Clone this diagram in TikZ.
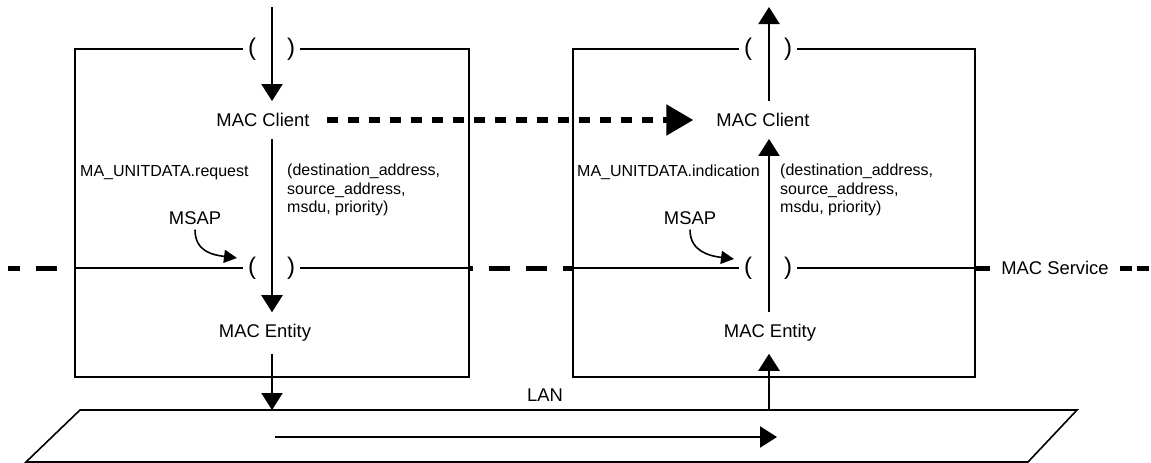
\documentclass[tikz,border=0pt]{standalone}
\usepackage{fontspec}
\setmainfont{Liberation Sans}
\usetikzlibrary{arrows.meta}

\begin{document}
\begin{tikzpicture}[x=1pt,y=-1pt,
    lbl/.style={font=\fontsize{18.4}{22}\selectfont,inner sep=12pt},
    prim/.style={font=\fontsize{16}{18.5}\selectfont,inner sep=0pt,align=left},
    paren/.style={font=\fontsize{24}{26}\selectfont,inner sep=5pt},
    frame/.style={line width=2pt},
    flow/.style={line width=2.2pt,-{Triangle[length=17pt,width=21pt]}},
    peer/.style={line width=5.5pt,dash pattern=on 11pt off 10pt,-{Triangle[length=27pt,width=30pt]}},
    service/.style={line width=5pt,dash pattern=on 21pt off 16pt},
    sap/.style={line width=1.6pt,-{Triangle[length=13pt,width=13pt]}},
    lan/.style={line width=1.6pt}]

  \useasboundingbox[fill=white] (0,0) rectangle (1151,463);

  % station corners and the LAN
  \coordinate (lnw) at (75,49);
  \coordinate (lse) at (469,377);
  \coordinate (rnw) at (573,49);
  \coordinate (rse) at (975,377);
  \coordinate (lantl) at (80,410);
  \coordinate (lantr) at (1077,410);
  \coordinate (lanbr) at (1028,462);
  \coordinate (lanbl) at (26,462);

  % left station
  \node[lbl] (lclient) at (263,120) {MAC Client};
  \node[lbl] (lentity) at (265,333) {MAC Entity};
  \node[paren] (ltopL) at (252,49) {(};
  \node[paren] (ltopR) at (291,49) {)};
  \node[paren] (lmidL) at (252,268) {(};
  \node[paren] (lmidR) at (291,268) {)};
  \node[prim,anchor=base west] (lreq) at (80,176) {MA\_UNITDATA.request};
  \node[prim,anchor=north west] (lparm) at (287,164) {(destination\_address,\\source\_address,\\msdu, priority)};
  \node[lbl,inner sep=5pt] (lmsap) at (195,218) {MSAP};
  \coordinate (lsap) at (237,258);
  \coordinate (lin) at (272,7);

  % right station
  \node[lbl] (rclient) at (763,120) {MAC Client};
  \node[lbl] (rentity) at (770,333) {MAC Entity};
  \node[paren] (rtopL) at (748,49) {(};
  \node[paren] (rtopR) at (788,49) {)};
  \node[paren] (rmidL) at (748,268) {(};
  \node[paren] (rmidR) at (788,268) {)};
  \node[prim,anchor=base west] (rind) at (577,176) {MA\_UNITDATA.indication};
  \node[prim,anchor=north west] (rparm) at (780,164) {(destination\_address,\\source\_address,\\msdu, priority)};
  \node[lbl,inner sep=5pt] (rmsap) at (690,218) {MSAP};
  \coordinate (rsap) at (734,259);
  \coordinate (rup) at (769,7);

  % frames
  \draw[frame] (ltopL.west) -| (lnw |- lse) -| (lse |- lnw) -- (ltopR.east);
  \draw[frame] (lnw |- lmidL) -- (lmidL.west) (lmidR.east) -- (lse |- lmidR);
  \draw[frame] (rtopL.west) -| (rnw |- rse) -| (rse |- rnw) -- (rtopR.east);
  \draw[frame] (rnw |- rmidL) -- (rmidL.west) (rmidR.east) -- (rse |- rmidR);

  % MAC service boundary
  \node[lbl,inner sep=11pt] (svc) at (1055,268) {MAC Service};
  \draw[service,dash phase=9pt] (8,268) -- (60,268);
  \draw[service,dash phase=17pt] (lse |- lmidR) -- (rnw |- rmidL);
  \draw[service] (rse |- rmidR) -- (svc.west);
  \draw[service,dash pattern=on 12pt off 5pt] (svc.east) -- (1151,268);

  % LAN
  \draw[lan] (lantl) -- (lantr) -- (lanbr) -- (lanbl) -- cycle;
  \node[lbl] (lanlbl) at (545,395) {LAN};
  \coordinate (bus0) at (275,437);
  \coordinate (bus1) at (777,437);
  \draw[flow] (bus0) -- (bus1);

  % primitives
  \path[flow]
    (lin) edge (lin |- lclient.north)
    (lin |- lclient.south) edge (lin |- lentity.north)
    (lin |- lentity.south) edge (lin |- lantl)
    (rup |- rclient.north) edge (rup)
    (rup |- rentity.north) edge (rup |- rclient.south)
    (rup |- lantl) edge (rup |- rentity.south);

  \draw[peer,shorten <=5pt,shorten >=11pt] (lclient.east) -- (rclient.west);

  \draw[sap] (lmsap.south) .. controls +(0,22) and +(-24,-3) .. (lsap);
  \draw[sap] (rmsap.south) .. controls +(0,22) and +(-24,-3) .. (rsap);
\end{tikzpicture}
\end{document}
